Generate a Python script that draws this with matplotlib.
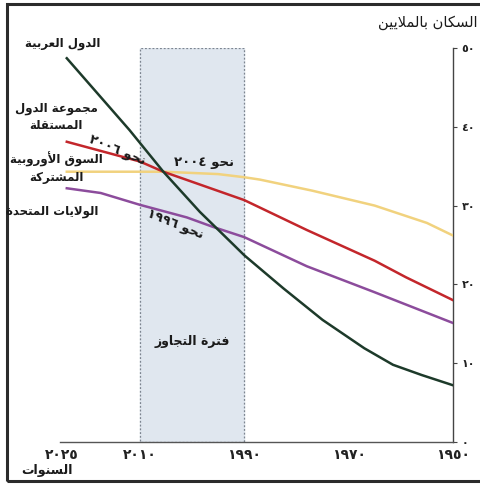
import re
import matplotlib
matplotlib.use("Agg")
import matplotlib.pyplot as plt
from matplotlib.patches import Rectangle

# ======================
# Données
# ======================
arab_years = [2024, 2012, 2005.5, 1998.5, 1992, 1990, 1982.5, 1975, 1967, 1961.5, 1956, 1950]
arab_pop = [48.7, 39.6, 34.3, 29.2, 25.0, 23.7, 19.5, 15.5, 11.9, 9.8, 8.5, 7.2]

cis_years = [2024, 2010, 2005.5, 1990, 1978, 1965, 1959, 1950]
cis_pop = [38.1, 35.6, 34.3, 30.7, 26.9, 23.0, 20.9, 18.0]

eec_years = [2024, 2005.5, 1995, 1990, 1987, 1977, 1965, 1955, 1950]
eec_pop = [34.3, 34.3, 34.0, 33.6, 33.3, 31.9, 30.0, 27.8, 26.2]

usa_years = [2024, 2017.5, 2010, 2001, 1996, 1990, 1978, 1965, 1950]
usa_pop = [32.2, 31.6, 30.1, 28.5, 27.3, 26.0, 22.3, 19.0, 15.1]

overlap_start, overlap_end = 2010, 1990
x_ticks = [2025, 2010, 1990, 1970, 1950]
y_ticks = [0, 10, 20, 30, 40, 50]

# ======================
# Mise en forme de l'arabe (formes contextuelles + ordre visuel)
# ======================
FORMS = {
    "ا": (0xFE8D, 0xFE8E), "أ": (0xFE83, 0xFE84), "ة": (0xFE93, 0xFE94),
    "د": (0xFEA9, 0xFEAA), "ر": (0xFEAD, 0xFEAE), "ز": (0xFEAF, 0xFEB0),
    "و": (0xFEED, 0xFEEE),
    "ب": (0xFE8F, 0xFE90, 0xFE91, 0xFE92), "ت": (0xFE95, 0xFE96, 0xFE97, 0xFE98),
    "ج": (0xFE9D, 0xFE9E, 0xFE9F, 0xFEA0), "ح": (0xFEA1, 0xFEA2, 0xFEA3, 0xFEA4),
    "س": (0xFEB1, 0xFEB2, 0xFEB3, 0xFEB4), "ش": (0xFEB5, 0xFEB6, 0xFEB7, 0xFEB8),
    "ع": (0xFEC9, 0xFECA, 0xFECB, 0xFECC), "ف": (0xFED1, 0xFED2, 0xFED3, 0xFED4),
    "ق": (0xFED5, 0xFED6, 0xFED7, 0xFED8), "ك": (0xFED9, 0xFEDA, 0xFEDB, 0xFEDC),
    "ل": (0xFEDD, 0xFEDE, 0xFEDF, 0xFEE0), "م": (0xFEE1, 0xFEE2, 0xFEE3, 0xFEE4),
    "ن": (0xFEE5, 0xFEE6, 0xFEE7, 0xFEE8), "ي": (0xFEF1, 0xFEF2, 0xFEF3, 0xFEF4),
}
LAM_ALEF = {"ا": (0xFEFB, 0xFEFC), "أ": (0xFEF7, 0xFEF8)}


def dual(c):
    return c in FORMS and len(FORMS[c]) == 4


def shape_line(text):
    res = []
    i, n = 0, len(text)
    while i < n:
        c = text[i]
        if c not in FORMS:
            res.append(c)
            i += 1
            continue
        joins_prev = i > 0 and dual(text[i - 1])
        if c == "ل" and i + 1 < n and text[i + 1] in LAM_ALEF:
            iso, fin = LAM_ALEF[text[i + 1]]
            res.append(chr(fin if joins_prev else iso))
            i += 2
            continue
        joins_next = dual(c) and i + 1 < n and text[i + 1] in FORMS
        f = FORMS[c]
        if joins_prev and joins_next:
            g = f[3]
        elif joins_prev:
            g = f[1]
        elif joins_next:
            g = f[2]
        else:
            g = f[0]
        res.append(chr(g))
        i += 1
    s = "".join(res)
    runs = re.findall(r"[\u0660-\u0669]+|[^\u0660-\u0669]+", s)
    return "".join(r if re.match(r"[\u0660-\u0669]", r) else r[::-1] for r in reversed(runs))


def ar(text):
    return "\n".join(shape_line(l) for l in text.split("\n"))


def ar_num(v):
    return "".join(chr(0x0660 + int(d)) for d in str(v))


# ======================
# Figure
# ======================
W, H = 480, 486
fig = plt.figure(figsize=(W / 100, H / 100), dpi=100)
fig.patch.set_facecolor("white")
plt.rcParams["font.family"] = ["DejaVu Sans"]


def fx(x):
    return x / W


def fy(y):
    return 1 - y / H


ax = fig.add_axes([fx(60), fy(442), (453 - 60) / W, (442 - 48) / H])
ax.set_xlim(2025.3, 1950)
ax.set_ylim(0, 50)

# période de dépassement
ax.axvspan(overlap_end, overlap_start, ymax=1, color="#e0e7ef", zorder=0)
ax.add_patch(Rectangle((overlap_end, 0), overlap_start - overlap_end, 50, fill=False,
                       edgecolor="#7d8590", linestyle=(0, (1.5, 1.5)), linewidth=0.9, zorder=1))

ax.plot(eec_years, eec_pop, color="#f1d27e", lw=1.8, zorder=3)
ax.plot(cis_years, cis_pop, color="#c3262b", lw=1.8, zorder=4)
ax.plot(usa_years, usa_pop, color="#8c4c9c", lw=1.8, zorder=4)
ax.plot(arab_years, arab_pop, color="#1d3a2a", lw=1.8, zorder=5)

for s in ["left", "top"]:
    ax.spines[s].set_visible(False)
ax.spines["right"].set_color("#444444")
ax.spines["right"].set_linewidth(1.0)
ax.spines["bottom"].set_color("#555555")
ax.spines["bottom"].set_linewidth(1.0)
ax.spines["bottom"].set_linestyle((0, (4, 1)))

ax.yaxis.tick_right()
ax.set_yticks(y_ticks)
ax.set_yticklabels([ar_num(v) for v in y_ticks], fontsize=8, fontweight="bold", color="#222222")
ax.tick_params(axis="y", length=3, width=0.8, color="#444444", pad=3)
ax.set_xticks(x_ticks)
ax.set_xticklabels([ar_num(v) for v in x_ticks], fontsize=10, fontweight="bold", color="#222222")
ax.tick_params(axis="x", length=0, pad=4)

# annotations dans la zone de tracé
ann = dict(fontsize=9.5, fontweight="bold", ha="center", va="center", color="#1a1a1a", zorder=6)
ax.text(1997.7, 35.5, ar("نحو ٢٠٠٤"), **ann)
ax.text(2014.3, 37.0, ar("نحو ٢٠٠٦"), rotation=-22, **ann)
ax.text(2003.3, 27.6, ar("نحو ١٩٩٦"), rotation=-22, **ann)
ax.text(2000, 12.8, ar("فترة التجاوز"), fontsize=9, fontweight="bold", ha="center", va="center",
        color="#1a1a1a", zorder=6)

# étiquettes des séries
lab = dict(fontsize=8.5, fontweight="bold", color="#1a1a1a", transform=fig.transFigure)
fig.text(fx(63), fy(43), ar("الدول العربية"), ha="center", va="center", **lab)
fig.text(fx(56), fy(117), ar("مجموعة الدول\nالمستقلة"), ha="center", va="center",
         multialignment="center", linespacing=1.45, **lab)
fig.text(fx(56), fy(168), ar("السوق الأوروبية\nالمشتركة"), ha="center", va="center",
         multialignment="center", linespacing=1.45, **lab)
fig.text(fx(98), fy(211), ar("الولايات المتحدة"), ha="right", va="center", **lab)

# titres des axes
fig.text(fx(478), fy(23), ar("السكان بالملايين"), ha="right", va="center", fontsize=10.5,
         color="#1a1a1a")
fig.text(fx(47), fy(470), ar("السنوات"), ha="center", va="center", fontsize=9,
         fontweight="bold", color="#1a1a1a")

# cadre
fig.add_artist(Rectangle((fx(7), fy(481)), (500 - 7) / W, (481 - 4) / H, fill=False,
                         edgecolor="#2b2b2b", linewidth=2.2, transform=fig.transFigure))

fig.savefig("out.png", dpi=100)
